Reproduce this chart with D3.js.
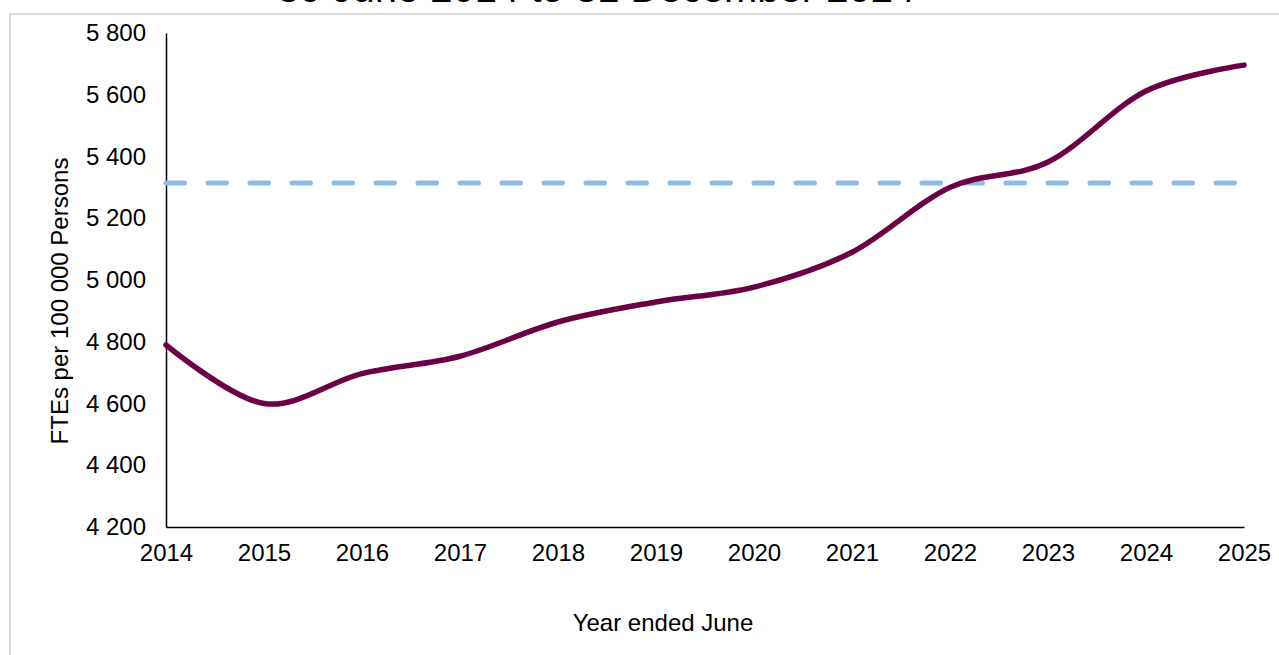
<!DOCTYPE html>
<html>
<head>
<meta charset="utf-8">
<script src="https://cdn.jsdelivr.net/npm/d3@7"></script>
<style>
  body { margin: 0; background: #fff; }
  text { font-family: "Liberation Sans", Arial, sans-serif; fill: #000; }
</style>
</head>
<body>
<div id="chart"></div>
<script>
// chart values
var years = [2014, 2015, 2016, 2017, 2018, 2019, 2020, 2021, 2022, 2023, 2024, 2025];
var ftes = [4790, 4600, 4697, 4753, 4864, 4929, 4977, 5090, 5300, 5382, 5612, 5696];
var benchmark = 5314;
var yTicks = [4200, 4400, 4600, 4800, 5000, 5200, 5400, 5600, 5800];
var titleText = "30 June 2014 to 31 December 2024";

var W = 1279, H = 655;
var margin = {top: 33, right: 35, bottom: 128, left: 166},
    width = W - margin.left - margin.right,
    height = H - margin.top - margin.bottom;

var root = d3.select("#chart")
  .append("svg")
    .attr("width", W)
    .attr("height", H);

// frame of the chart area
root.append("rect")
  .attr("x", 10).attr("y", 14)
  .attr("width", W + 20).attr("height", H + 20)
  .attr("fill", "none")
  .attr("stroke", "#d9d9d9")
  .attr("stroke-width", 2);

// title, mostly cut off above the frame (as in the source)
root.append("text")
  .attr("x", 596).attr("y", 1.5)
  .attr("text-anchor", "middle")
  .attr("font-size", 40)
  .text(titleText);

var svg = root.append("g")
  .attr("transform", "translate(" + margin.left + "," + margin.top + ")");

var x = d3.scaleLinear()
  .domain([2014, 2025])
  .range([0, width]);

var y = d3.scaleLinear()
  .domain([4200, 5800])
  .range([height, 0]);

var fmt = function (d) { return d3.format(",")(d).replace(",", " "); };

// X axis
var xAxis = svg.append("g")
  .attr("transform", "translate(0," + height + ")")
  .call(d3.axisBottom(x).tickValues(years).tickFormat(d3.format("d")).tickSize(0).tickPadding(17));
xAxis.select(".domain").attr("stroke", "#000").attr("stroke-width", 1.5);
xAxis.selectAll("text").attr("font-size", 24).attr("font-family", "Liberation Sans, Arial, sans-serif");

// Y axis
var yAxis = svg.append("g")
  .call(d3.axisLeft(y).tickValues(yTicks).tickFormat(fmt).tickSize(0).tickPadding(20));
yAxis.select(".domain").attr("stroke", "#000").attr("stroke-width", 1.5);
yAxis.selectAll("text").attr("font-size", 24).attr("font-family", "Liberation Sans, Arial, sans-serif");

// axis titles
root.append("text")
  .attr("x", 663).attr("y", 631)
  .attr("text-anchor", "middle")
  .attr("font-size", 24)
  .text("Year ended June");

root.append("text")
  .attr("transform", "translate(68,301) rotate(-90)")
  .attr("text-anchor", "middle")
  .attr("font-size", 24)
  .text("FTEs per 100 000 Persons");

// benchmark dashed line
svg.append("line")
  .attr("x1", x(2014)).attr("x2", x(2025) - 5)
  .attr("y1", y(benchmark)).attr("y2", y(benchmark))
  .attr("stroke", "#8cbde9")
  .attr("stroke-width", 5)
  .attr("stroke-linecap", "round")
  .attr("stroke-dasharray", "18.5,23.5");

// main series
var line = d3.line()
  .x(function (d, i) { return x(years[i]); })
  .y(function (d) { return y(d); })
  .curve(d3.curveCardinal.tension(0));

svg.append("path")
  .datum(ftes)
  .attr("d", line)
  .attr("fill", "none")
  .attr("stroke", "#6b0046")
  .attr("stroke-width", 5.5)
  .attr("stroke-linecap", "round");
</script>
</body>
</html>
